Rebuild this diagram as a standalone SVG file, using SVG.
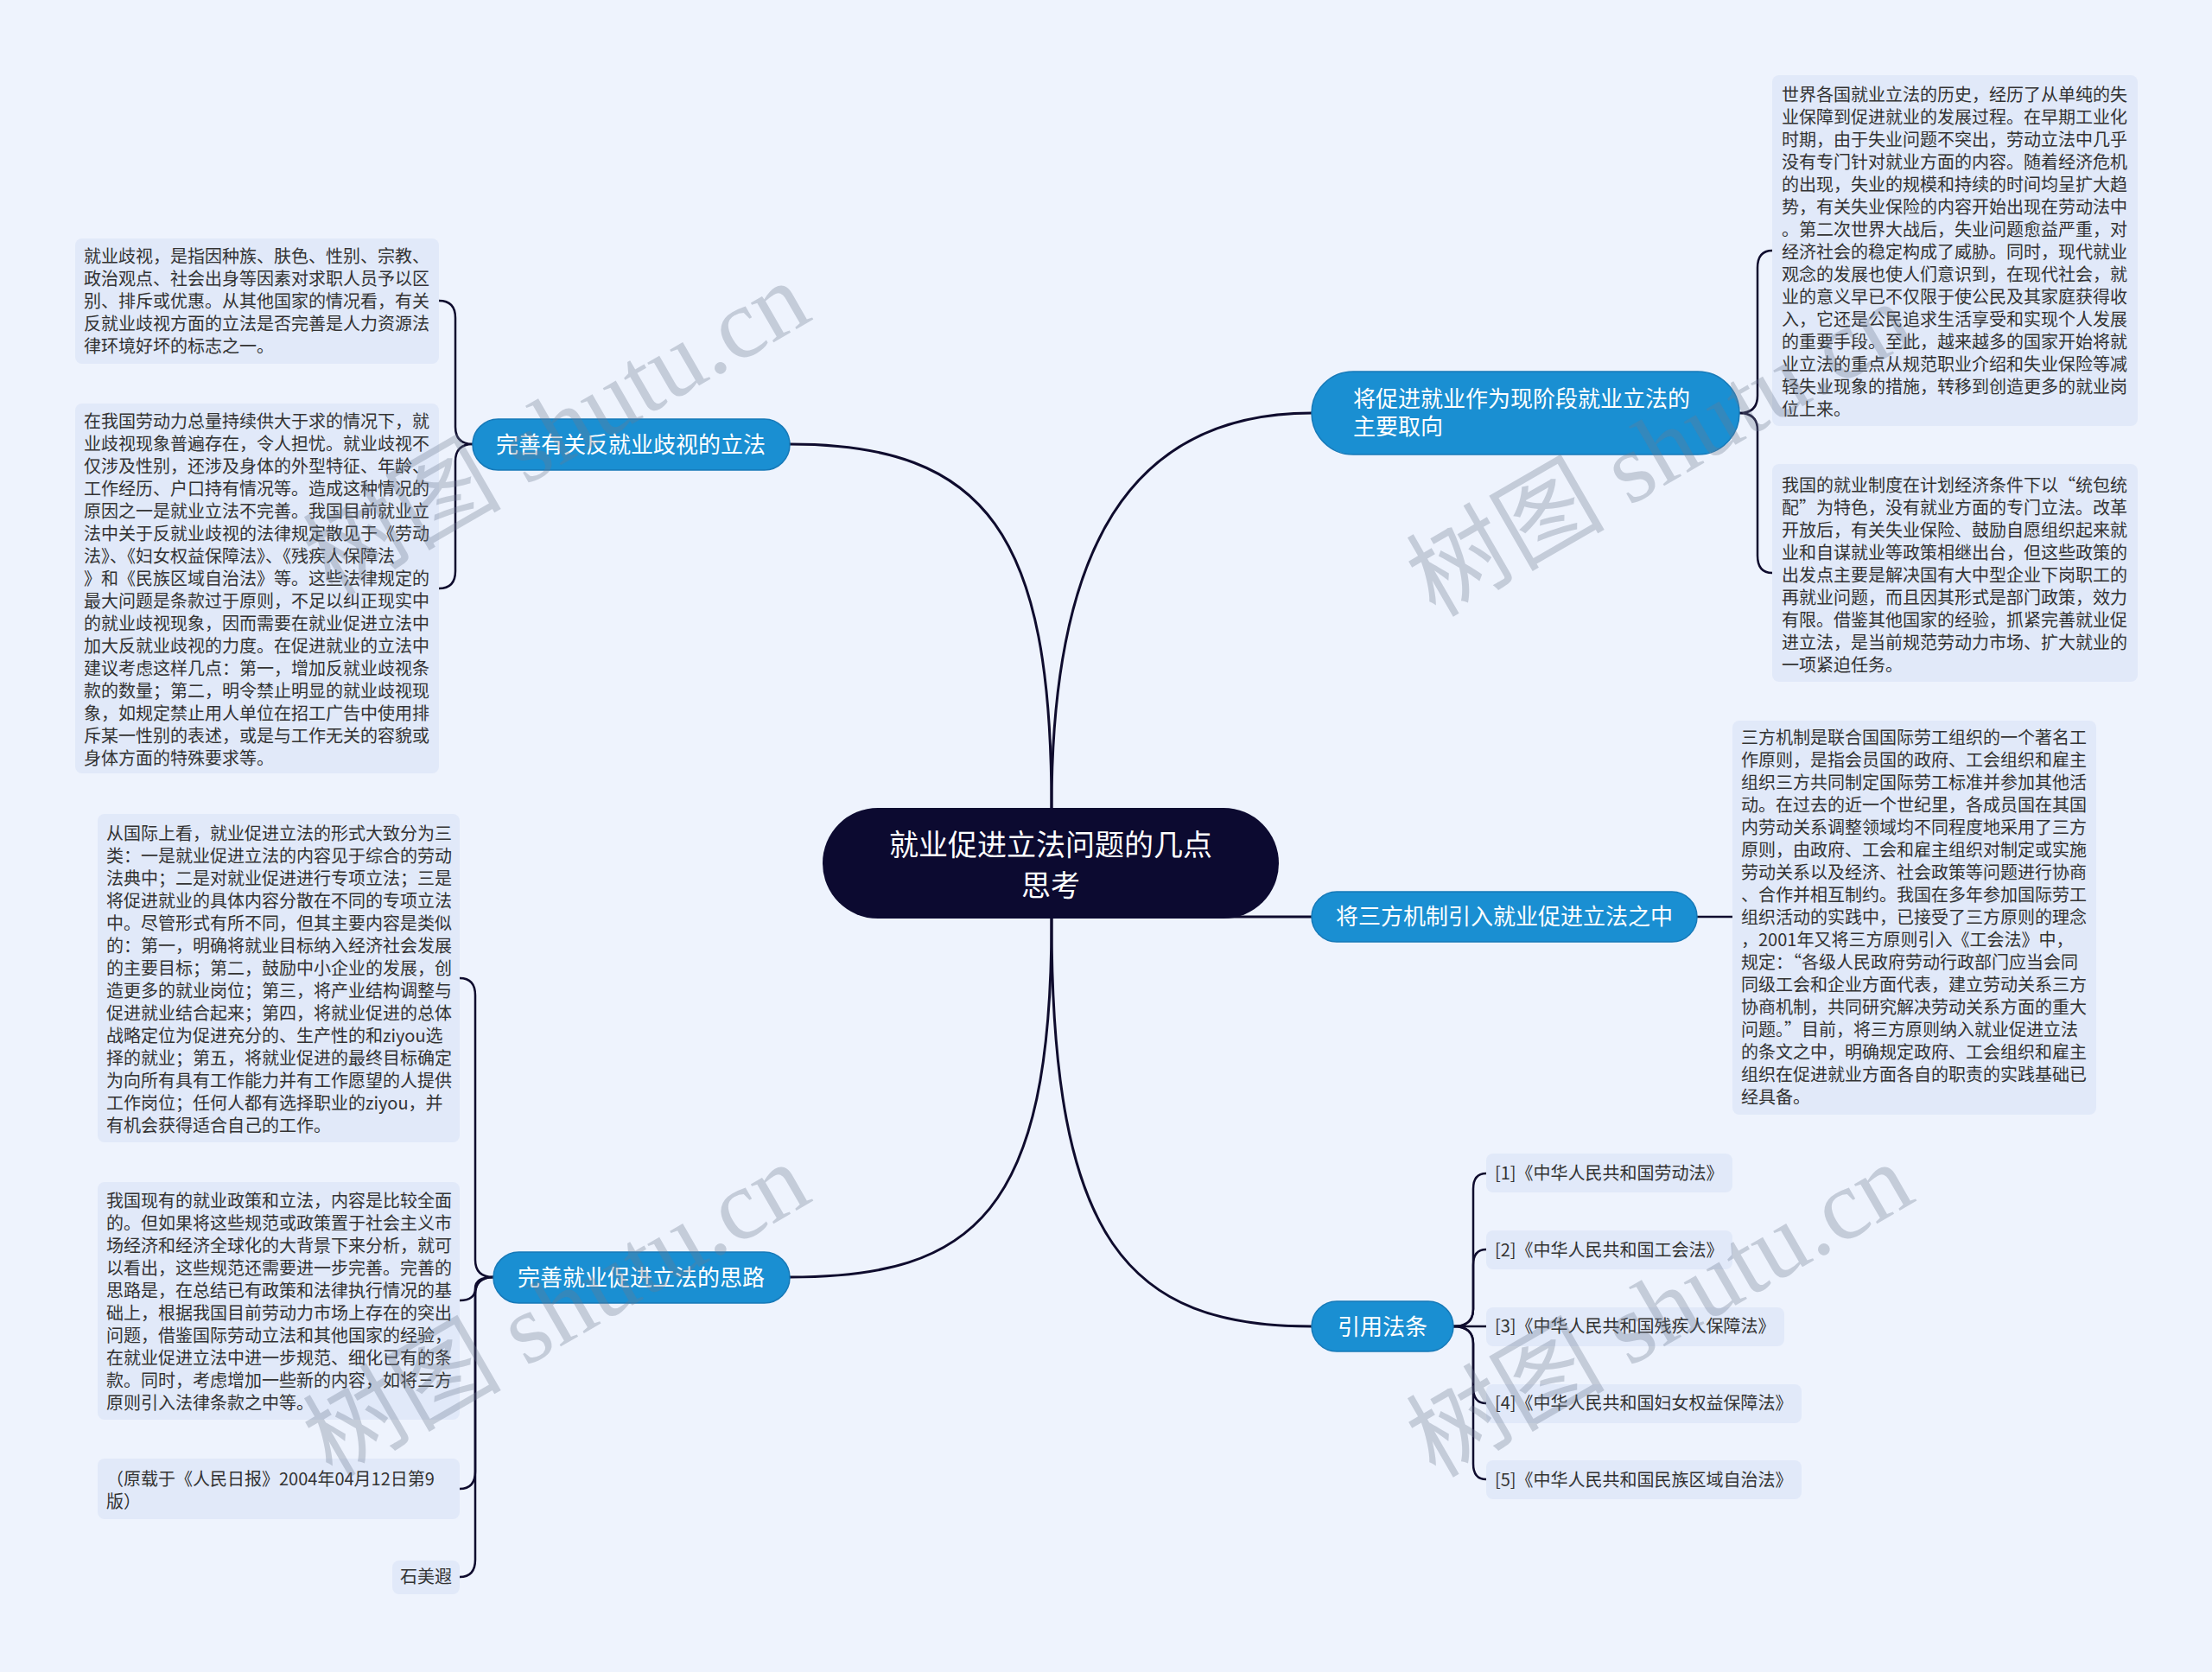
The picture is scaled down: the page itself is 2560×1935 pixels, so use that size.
<svg xmlns="http://www.w3.org/2000/svg" width="2560" height="1935" viewBox="0 0 2560 1935">
<style>
.t{font-family:"Noto Sans CJK SC","Noto Sans",sans-serif;font-size:20px;fill:#333333}
.fw{font-feature-settings:"fwid" 1}
.box{fill:#E1E9F9}
.node{fill:#1A8FD2;stroke:#1679B8;stroke-width:1.5}
.nt{font-family:"Noto Sans CJK SC","Noto Sans",sans-serif;font-size:26px;fill:#ffffff}
.ct{font-family:"Noto Sans CJK SC","Noto Sans",sans-serif;font-size:34px;fill:#ffffff;text-anchor:middle}
.c{fill:none;stroke:#0F0C2E;stroke-width:3;stroke-linecap:round}
.b{fill:none;stroke:#0F0C2E;stroke-width:2.5;stroke-linecap:round}
.wm{font-family:"Liberation Serif","Noto Sans CJK SC",serif;font-size:115px;fill:#6E7890;fill-opacity:0.32;text-anchor:middle}
</style>
<rect width="2560" height="1935" fill="#EEF3FD"/>
<g id="connectors">
<path class="c" d="M1217 1000 V935 C1217 620 1143 514 914 514"/>
<path class="c" d="M1217 1000 V935 C1217 637 1306 478 1518 478"/>
<path class="c" d="M1217 1000 V1065 C1217 1404 1127 1478 914 1478"/>
<path class="c" d="M1217 1000 V1065 C1217 1437 1306 1535 1518 1535"/>
<path class="c" d="M1380 1061 H1518"/>
<path class="b" d="M547 514 Q527 514 527 494 V368 Q527 348 508 348"/>
<path class="b" d="M547 514 Q527 514 527 534 V661 Q527 681 508 681"/>
<path class="b" d="M571 1478 Q550 1478 550 1458 V1152 Q550 1132 532 1132"/>
<path class="b" d="M571 1478 Q550 1478 550 1491 Q550 1505 532 1505"/>
<path class="b" d="M571 1478 Q550 1478 550 1498 V1703 Q550 1723 532 1723"/>
<path class="b" d="M571 1478 Q550 1478 550 1498 V1805 Q550 1825 532 1825"/>
<path class="b" d="M2013 478 Q2034 478 2034 458 V310 Q2034 290 2051 290"/>
<path class="b" d="M2013 478 Q2034 478 2034 498 V643 Q2034 663 2051 663"/>
<path class="b" d="M1964 1061 H2005"/>
<path class="b" d="M1682 1535 Q1705 1535 1705 1515 V1376 Q1705 1358 1720 1358"/>
<path class="b" d="M1682 1535 Q1705 1535 1705 1515 V1464 Q1705 1446 1720 1446"/>
<path class="b" d="M1682 1535 H1720"/>
<path class="b" d="M1682 1535 Q1705 1535 1705 1555 V1606 Q1705 1624 1720 1624"/>
<path class="b" d="M1682 1535 Q1705 1535 1705 1555 V1694 Q1705 1712 1720 1712"/>
</g>
<g id="center">
<rect x="952" y="935" width="528" height="128" rx="64" fill="#0C0A30"/>
<text class="ct" x="1216" y="990">就业促进立法问题的几点</text>
<text class="ct" x="1216" y="1037">思考</text>
</g>
<g id="n-left1">
<rect class="node" x="547" y="485" width="367" height="59" rx="29.5"/>
<text class="nt" x="730" y="524" text-anchor="middle">完善有关反就业歧视的立法</text>
</g>
<g id="n-left2">
<rect class="node" x="571" y="1449" width="343" height="59" rx="29.5"/>
<text class="nt" x="742" y="1488" text-anchor="middle">完善就业促进立法的思路</text>
</g>
<g id="n-right1">
<rect class="node" x="1518" y="430" width="495" height="96" rx="48"/>
<text class="nt" x="1566" y="471">将促进就业作为现阶段就业立法的</text>
<text class="nt" x="1566" y="503">主要取向</text>
</g>
<g id="n-right2">
<rect class="node" x="1518" y="1032" width="446" height="58" rx="29"/>
<text class="nt" x="1741" y="1070" text-anchor="middle">将三方机制引入就业促进立法之中</text>
</g>
<g id="n-right3">
<rect class="node" x="1518" y="1506" width="164" height="58" rx="29"/>
<text class="nt" x="1600" y="1545" text-anchor="middle">引用法条</text>
</g>
<g id="l1">
<rect class="box" x="87" y="276" width="421" height="145" rx="8"/>
<text class="t" x="97" y="304">就业歧视，是指因种族、肤色、性别、宗教、</text>
<text class="t" x="97" y="330">政治观点、社会出身等因素对求职人员予以区</text>
<text class="t" x="97" y="356">别、排斥或优惠。从其他国家的情况看，有关</text>
<text class="t" x="97" y="382">反就业歧视方面的立法是否完善是人力资源法</text>
<text class="t" x="97" y="408">律环境好坏的标志之一。</text>
</g>
<g id="l2">
<rect class="box" x="87" y="467" width="421" height="428" rx="8"/>
<text class="t" x="97" y="495">在我国劳动力总量持续供大于求的情况下，就</text>
<text class="t" x="97" y="521">业歧视现象普遍存在，令人担忧。就业歧视不</text>
<text class="t" x="97" y="547">仅涉及性别，还涉及身体的外型特征、年龄、</text>
<text class="t" x="97" y="573">工作经历、户口持有情况等。造成这种情况的</text>
<text class="t" x="97" y="599">原因之一是就业立法不完善。我国目前就业立</text>
<text class="t" x="97" y="625">法中关于反就业歧视的法律规定散见于《劳动</text>
<text class="t" x="97" y="651">法》、《妇女权益保障法》、《残疾人保障法</text>
<text class="t" x="97" y="677">》和《民族区域自治法》等。这些法律规定的</text>
<text class="t" x="97" y="703">最大问题是条款过于原则，不足以纠正现实中</text>
<text class="t" x="97" y="729">的就业歧视现象，因而需要在就业促进立法中</text>
<text class="t" x="97" y="755">加大反就业歧视的力度。在促进就业的立法中</text>
<text class="t" x="97" y="781">建议考虑这样几点：第一，增加反就业歧视条</text>
<text class="t" x="97" y="807">款的数量；第二，明令禁止明显的就业歧视现</text>
<text class="t" x="97" y="833">象，如规定禁止用人单位在招工广告中使用排</text>
<text class="t" x="97" y="859">斥某一性别的表述，或是与工作无关的容貌或</text>
<text class="t" x="97" y="885">身体方面的特殊要求等。</text>
</g>
<g id="l3">
<rect class="box" x="113" y="942" width="419" height="380" rx="8"/>
<text class="t" x="123" y="972">从国际上看，就业促进立法的形式大致分为三</text>
<text class="t" x="123" y="998">类：一是就业促进立法的内容见于综合的劳动</text>
<text class="t" x="123" y="1024">法典中；二是对就业促进进行专项立法；三是</text>
<text class="t" x="123" y="1050">将促进就业的具体内容分散在不同的专项立法</text>
<text class="t" x="123" y="1076">中。尽管形式有所不同，但其主要内容是类似</text>
<text class="t" x="123" y="1102">的：第一，明确将就业目标纳入经济社会发展</text>
<text class="t" x="123" y="1128">的主要目标；第二，鼓励中小企业的发展，创</text>
<text class="t" x="123" y="1154">造更多的就业岗位；第三，将产业结构调整与</text>
<text class="t" x="123" y="1180">促进就业结合起来；第四，将就业促进的总体</text>
<text class="t" x="123" y="1206">战略定位为促进充分的、生产性的和ziyou选</text>
<text class="t" x="123" y="1232">择的就业；第五，将就业促进的最终目标确定</text>
<text class="t" x="123" y="1258">为向所有具有工作能力并有工作愿望的人提供</text>
<text class="t" x="123" y="1284">工作岗位；任何人都有选择职业的ziyou，并</text>
<text class="t" x="123" y="1310">有机会获得适合自己的工作。</text>
</g>
<g id="l4">
<rect class="box" x="113" y="1368" width="419" height="275" rx="8"/>
<text class="t" x="123" y="1397">我国现有的就业政策和立法，内容是比较全面</text>
<text class="t" x="123" y="1423">的。但如果将这些规范或政策置于社会主义市</text>
<text class="t" x="123" y="1449">场经济和经济全球化的大背景下来分析，就可</text>
<text class="t" x="123" y="1475">以看出，这些规范还需要进一步完善。完善的</text>
<text class="t" x="123" y="1501">思路是，在总结已有政策和法律执行情况的基</text>
<text class="t" x="123" y="1527">础上，根据我国目前劳动力市场上存在的突出</text>
<text class="t" x="123" y="1553">问题，借鉴国际劳动立法和其他国家的经验，</text>
<text class="t" x="123" y="1579">在就业促进立法中进一步规范、细化已有的条</text>
<text class="t" x="123" y="1605">款。同时，考虑增加一些新的内容，如将三方</text>
<text class="t" x="123" y="1631">原则引入法律条款之中等。</text>
</g>
<g id="l5">
<rect class="box" x="113" y="1688" width="419" height="70" rx="8"/>
<text class="t" x="123" y="1719">（原载于《人民日报》2004年04月12日第9</text>
<text class="t" x="123" y="1745">版）</text>
</g>
<g id="l6">
<rect class="box" x="454" y="1806" width="78" height="39" rx="8"/>
<text class="t" x="493" y="1832" text-anchor="middle">石美遐</text>
</g>
<g id="r1">
<rect class="box" x="2051" y="87" width="423" height="406" rx="8"/>
<text class="t" x="2062" y="117">世界各国就业立法的历史，经历了从单纯的失</text>
<text class="t" x="2062" y="143">业保障到促进就业的发展过程。在早期工业化</text>
<text class="t" x="2062" y="169">时期，由于失业问题不突出，劳动立法中几乎</text>
<text class="t" x="2062" y="195">没有专门针对就业方面的内容。随着经济危机</text>
<text class="t" x="2062" y="221">的出现，失业的规模和持续的时间均呈扩大趋</text>
<text class="t" x="2062" y="247">势，有关失业保险的内容开始出现在劳动法中</text>
<text class="t" x="2062" y="273">。第二次世界大战后，失业问题愈益严重，对</text>
<text class="t" x="2062" y="299">经济社会的稳定构成了威胁。同时，现代就业</text>
<text class="t" x="2062" y="325">观念的发展也使人们意识到，在现代社会，就</text>
<text class="t" x="2062" y="351">业的意义早已不仅限于使公民及其家庭获得收</text>
<text class="t" x="2062" y="377">入，它还是公民追求生活享受和实现个人发展</text>
<text class="t" x="2062" y="403">的重要手段。至此，越来越多的国家开始将就</text>
<text class="t" x="2062" y="429">业立法的重点从规范职业介绍和失业保险等减</text>
<text class="t" x="2062" y="455">轻失业现象的措施，转移到创造更多的就业岗</text>
<text class="t" x="2062" y="481">位上来。</text>
</g>
<g id="r2">
<rect class="box" x="2051" y="537" width="423" height="252" rx="8"/>
<text class="t fw" x="2062" y="569">我国的就业制度在计划经济条件下以“统包统</text>
<text class="t fw" x="2062" y="595">配”为特色，没有就业方面的专门立法。改革</text>
<text class="t" x="2062" y="621">开放后，有关失业保险、鼓励自愿组织起来就</text>
<text class="t" x="2062" y="647">业和自谋就业等政策相继出台，但这些政策的</text>
<text class="t" x="2062" y="673">出发点主要是解决国有大中型企业下岗职工的</text>
<text class="t" x="2062" y="699">再就业问题，而且因其形式是部门政策，效力</text>
<text class="t" x="2062" y="725">有限。借鉴其他国家的经验，抓紧完善就业促</text>
<text class="t" x="2062" y="751">进立法，是当前规范劳动力市场、扩大就业的</text>
<text class="t" x="2062" y="777">一项紧迫任务。</text>
</g>
<g id="r3">
<rect class="box" x="2005" y="834" width="421" height="456" rx="8"/>
<text class="t" x="2015" y="861">三方机制是联合国国际劳工组织的一个著名工</text>
<text class="t" x="2015" y="887">作原则，是指会员国的政府、工会组织和雇主</text>
<text class="t" x="2015" y="913">组织三方共同制定国际劳工标准并参加其他活</text>
<text class="t" x="2015" y="939">动。在过去的近一个世纪里，各成员国在其国</text>
<text class="t" x="2015" y="965">内劳动关系调整领域均不同程度地采用了三方</text>
<text class="t" x="2015" y="991">原则，由政府、工会和雇主组织对制定或实施</text>
<text class="t" x="2015" y="1017">劳动关系以及经济、社会政策等问题进行协商</text>
<text class="t" x="2015" y="1043">、合作并相互制约。我国在多年参加国际劳工</text>
<text class="t" x="2015" y="1069">组织活动的实践中，已接受了三方原则的理念</text>
<text class="t" x="2015" y="1095">，2001年又将三方原则引入《工会法》中，</text>
<text class="t fw" x="2015" y="1121">规定：“各级人民政府劳动行政部门应当会同</text>
<text class="t" x="2015" y="1147">同级工会和企业方面代表，建立劳动关系三方</text>
<text class="t" x="2015" y="1173">协商机制，共同研究解决劳动关系方面的重大</text>
<text class="t fw" x="2015" y="1199">问题。”目前，将三方原则纳入就业促进立法</text>
<text class="t" x="2015" y="1225">的条文之中，明确规定政府、工会组织和雇主</text>
<text class="t" x="2015" y="1251">组织在促进就业方面各自的职责的实践基础已</text>
<text class="t" x="2015" y="1277">经具备。</text>
</g>
<g id="ref1">
<rect class="box" x="1720" y="1335" width="285" height="45" rx="8"/>
<text class="t" x="1730" y="1365">[1]《中华人民共和国劳动法》</text>
</g>
<g id="ref2">
<rect class="box" x="1720" y="1424" width="285" height="45" rx="8"/>
<text class="t" x="1730" y="1454">[2]《中华人民共和国工会法》</text>
</g>
<g id="ref3">
<rect class="box" x="1720" y="1513" width="345" height="45" rx="8"/>
<text class="t" x="1730" y="1542">[3]《中华人民共和国残疾人保障法》</text>
</g>
<g id="ref4">
<rect class="box" x="1720" y="1602" width="365" height="45" rx="8"/>
<text class="t" x="1730" y="1631">[4]《中华人民共和国妇女权益保障法》</text>
</g>
<g id="ref5">
<rect class="box" x="1720" y="1690" width="365" height="45" rx="8"/>
<text class="t" x="1730" y="1720">[5]《中华人民共和国民族区域自治法》</text>
</g>
<g id="watermarks">
<text class="wm" x="645" y="535" transform="rotate(-30 645 498)">树图 shutu.cn</text>
<text class="wm" x="1922" y="559" transform="rotate(-30 1922 522)">树图 shutu.cn</text>
<text class="wm" x="645" y="1555" transform="rotate(-30 645 1518)">树图 shutu.cn</text>
<text class="wm" x="1922" y="1555" transform="rotate(-30 1922 1518)">树图 shutu.cn</text>
</g>
</svg>
